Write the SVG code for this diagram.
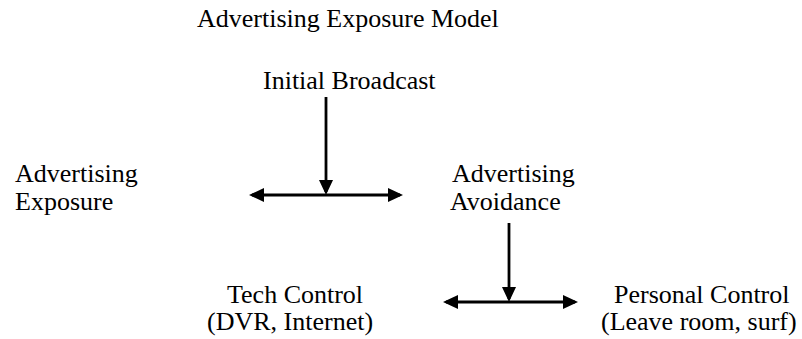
<svg xmlns="http://www.w3.org/2000/svg" width="802" height="339" viewBox="0 0 802 339">
<style>
text{font-family:"Liberation Serif","Times New Roman",serif;font-size:26px;fill:#000}
.c{stroke:#000;stroke-width:2.8;fill:none}
</style>
<defs>
<marker id="ah" markerWidth="15" markerHeight="14" refX="12" refY="7" orient="auto-start-reverse" markerUnits="userSpaceOnUse" viewBox="0 0 15 14">
<path d="M0,0 L15,7 L0,14 z" fill="#000"/>
</marker>
</defs>
<rect width="802" height="339" fill="#fff"/>
<g id="title"><text x="197" y="27">Advertising Exposure Model</text></g>
<g id="initial"><text x="263" y="89">Initial Broadcast</text></g>
<g id="exposure"><text x="15" y="182">Advertising</text><text x="15" y="210">Exposure</text></g>
<g id="avoidance"><text x="452" y="182">Advertising</text><text x="450" y="210">Avoidance</text></g>
<g id="tech"><text x="227" y="303">Tech Control</text><text x="207" y="330">(DVR, Internet)</text></g>
<g id="personal"><text x="614" y="303">Personal Control</text><text x="601" y="330">(Leave room, surf)</text></g>
<g id="connectors">
<path class="c" d="M326,97 V192" marker-end="url(#ah)"/>
<path class="c" d="M252,195 H400" marker-start="url(#ah)" marker-end="url(#ah)"/>
<path class="c" d="M509,223 V299" marker-end="url(#ah)"/>
<path class="c" d="M446,302 H575" marker-start="url(#ah)" marker-end="url(#ah)"/>
</g>
</svg>
